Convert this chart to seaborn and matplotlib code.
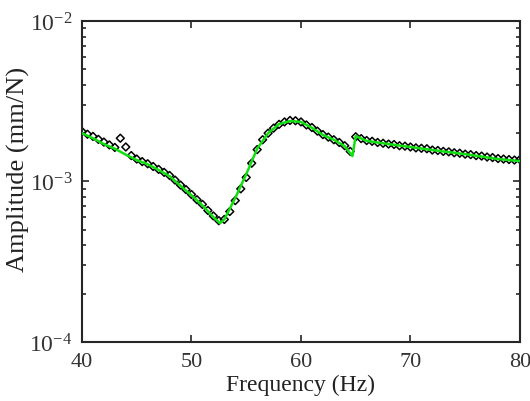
import numpy as np
import pandas as pd
import matplotlib
matplotlib.use("Agg")
import matplotlib.pyplot as plt
import seaborn as sns
from matplotlib.ticker import LogLocator, FixedLocator

# measured FRF (black markers), amplitude in 1e-3 mm/N
freq_meas = [40.0, 40.5, 41.0, 41.5, 42.0, 42.5, 43.0, 43.5, 44.0, 44.5,
             45.0, 45.5, 46.0, 46.5, 47.0, 47.5, 48.0, 48.5, 49.0, 49.5,
             50.0, 50.5, 51.0, 51.5, 52.0, 52.5, 53.0, 53.5, 54.0, 54.5,
             55.0, 55.5, 56.0, 56.5, 57.0, 57.5, 58.0, 58.5, 59.0, 59.5,
             60.0, 60.5, 61.0, 61.5, 62.0, 62.5, 63.0, 63.5, 64.0, 64.5,
             65.0, 65.5, 66.0, 66.5, 67.0, 67.5, 68.0, 68.5, 69.0, 69.5,
             70.0, 70.5, 71.0, 71.5, 72.0, 72.5, 73.0, 73.5, 74.0, 74.5,
             75.0, 75.5, 76.0, 76.5, 77.0, 77.5, 78.0, 78.5, 79.0, 79.5, 80.0]
amp_meas_e3 = [2.05, 1.97, 1.91, 1.83, 1.76, 1.69, 1.63, 1.86, 1.64, 1.45,
               1.38, 1.33, 1.29, 1.24, 1.19, 1.14, 1.09, 1.02, 0.95, 0.89,
               0.83, 0.77, 0.72, 0.66, 0.61, 0.57, 0.58, 0.65, 0.76, 0.90,
               1.06, 1.30, 1.58, 1.82, 2.00, 2.15, 2.27, 2.35, 2.40, 2.39,
               2.35, 2.25, 2.17, 2.06, 1.96, 1.89, 1.82, 1.75, 1.67, 1.54,
               1.90, 1.85, 1.80, 1.78, 1.75, 1.73, 1.71, 1.70, 1.67, 1.66,
               1.64, 1.62, 1.61, 1.60, 1.57, 1.56, 1.54, 1.53, 1.51, 1.50,
               1.48, 1.47, 1.45, 1.44, 1.42, 1.41, 1.39, 1.38, 1.37, 1.36, 1.37]

# fitted FRF (green line), amplitude in 1e-3 mm/N
freq_fit = [40, 41, 42, 43, 44, 45, 46, 47, 48, 49, 50, 51, 52, 52.6, 53,
            54, 55, 56, 57, 58, 59, 60, 61, 62, 63, 64, 64.7, 65, 66, 68,
            70, 72, 75, 78, 80]
amp_fit_e3 = [2.00, 1.86, 1.71, 1.60, 1.47, 1.36, 1.28, 1.18, 1.08, 0.94,
              0.82, 0.71, 0.60, 0.55, 0.58, 0.79, 1.11, 1.60, 2.00, 2.28,
              2.38, 2.35, 2.16, 1.95, 1.82, 1.66, 1.44, 1.92, 1.79, 1.71,
              1.64, 1.57, 1.48, 1.38, 1.34]

x_ticks = [40, 50, 60, 70, 80]

meas = pd.DataFrame({"f": freq_meas, "A": np.array(amp_meas_e3) * 1e-3})
fit = pd.DataFrame({"f": freq_fit, "A": np.array(amp_fit_e3) * 1e-3})

sns.set_style("ticks")
plt.rcParams["font.family"] = ["Liberation Serif", "DejaVu Serif"]
plt.rcParams["mathtext.fontset"] = "custom"
plt.rcParams["mathtext.rm"] = "Liberation Serif"
plt.rcParams["mathtext.it"] = "Liberation Serif"

fig = plt.figure(figsize=(5.3, 4.02), dpi=100)
ax = fig.add_axes([0.1547, 0.1468, 0.8263, 0.7985])

sns.scatterplot(data=meas, x="f", y="A", ax=ax, marker="D", s=16,
                facecolor="none", edgecolor="black", linewidth=1.1, zorder=2)
sns.lineplot(data=fit, x="f", y="A", ax=ax, color="#10e010", linewidth=1.8,
             zorder=3)

ax.set_yscale("log")
ax.set_xlim(40, 80)
ax.set_ylim(1e-4, 1e-2)
ax.xaxis.set_major_locator(FixedLocator(x_ticks))
ax.yaxis.set_major_locator(LogLocator(base=10, numticks=5))
ax.yaxis.set_minor_locator(LogLocator(base=10, subs=np.arange(2, 10), numticks=10))

ax.tick_params(which="both", direction="in", top=True, right=True,
               labelsize=17, labelcolor="#333333", width=1.2)
ax.tick_params(axis="x", labelsize=16)
ax.tick_params(which="major", length=5, pad=7)
ax.tick_params(which="minor", length=3)
for s in ax.spines.values():
    s.set_linewidth(1.5)

ax.set_xlabel("Frequency (Hz)", fontsize=17, color="#222222", labelpad=2)
ax.set_ylabel("Amplitude (mm/N)", fontsize=19, color="#222222")
ax.yaxis.set_label_coords(-0.119, 0.542)

fig.savefig("out.png", dpi=100)
